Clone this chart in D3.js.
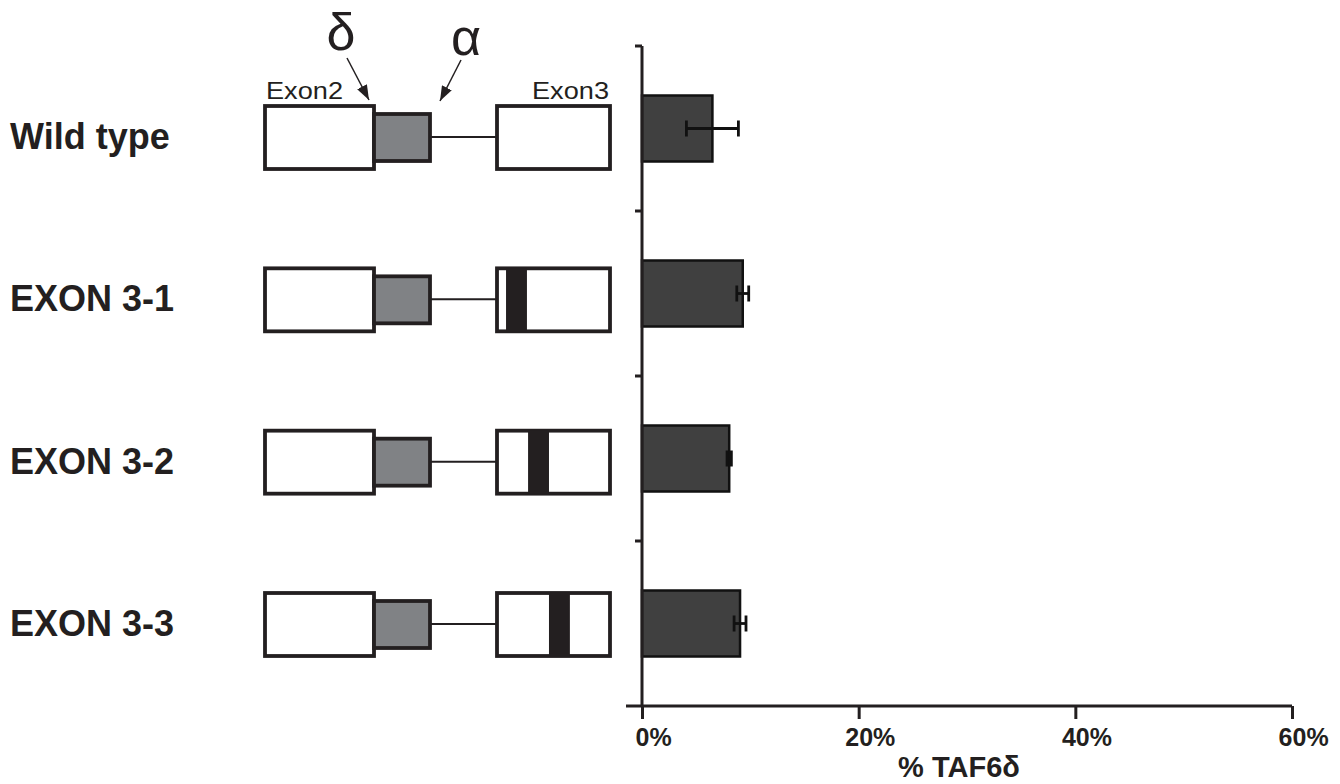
<!DOCTYPE html>
<html><head><meta charset="utf-8">
<script src="https://cdn.jsdelivr.net/npm/d3@7/dist/d3.min.js"></script>
<style>html,body{margin:0;padding:0;background:#fff;}svg{display:block;}</style>
</head><body>
<script>
const categories = ["Wild type", "EXON 3-1", "EXON 3-2", "EXON 3-3"];
const values = [6.5, 9.3, 8.05, 9.05];      // % TAF6δ
const errors = [2.4, 0.55, 0.2, 0.55];       // error bar half-width (%)
const xTicks = [0, 20, 40, 60];
const xTickLabels = ["0%", "20%", "40%", "60%"];
// mutation block within exon 3, as fraction of exon 3 length
const mutStart = [null, 0.08, 0.275, 0.46];
const mutEnd   = [null, 0.265, 0.46, 0.645];

const W = 1340, H = 784;
const ink = "#231f20";
const svg = d3.select("body").append("svg").attr("width", W).attr("height", H);
const boldFont = "'Liberation Sans',Arial,sans-serif";

// ---------- bar chart ----------
const x = d3.scaleLinear().domain([0, 60]).range([642, 1292]);
const y = d3.scaleBand().domain(categories).range([46, 706]).paddingInner(0.6).paddingOuter(0.3);

const g = svg.append("g");
g.selectAll("rect.bar").data(categories).join("rect")
  .attr("class", "bar")
  .attr("x", x(0))
  .attr("y", d => y(d))
  .attr("width", (d, i) => x(values[i]) - x(0))
  .attr("height", y.bandwidth())
  .attr("fill", "#404040").attr("stroke", "#111").attr("stroke-width", 2.5);

// error bars
const eb = g.selectAll("g.err").data(categories).join("g").attr("class", "err");
eb.append("line")
  .attr("x1", (d, i) => x(values[i] - errors[i])).attr("x2", (d, i) => x(values[i] + errors[i]))
  .attr("y1", d => y(d) + y.bandwidth() / 2).attr("y2", d => y(d) + y.bandwidth() / 2)
  .attr("stroke", "#111").attr("stroke-width", 2.8);
[-1, 1].forEach(s => {
  eb.append("line")
    .attr("x1", (d, i) => x(values[i] + s * errors[i])).attr("x2", (d, i) => x(values[i] + s * errors[i]))
    .attr("y1", d => y(d) + y.bandwidth() / 2 - 8).attr("y2", d => y(d) + y.bandwidth() / 2 + 8)
    .attr("stroke", "#111").attr("stroke-width", 2.8);
});

// y axis
const boundaries = d3.range(categories.length + 1).map(i => 46 + i * y.step());
g.append("line").attr("x1", x(0)).attr("x2", x(0)).attr("y1", 46).attr("y2", 706)
  .attr("stroke", ink).attr("stroke-width", 3);
g.selectAll("line.ytick").data(boundaries.slice(0, -1)).join("line").attr("class", "ytick")
  .attr("x1", x(0) - 7).attr("x2", x(0)).attr("y1", d => d).attr("y2", d => d)
  .attr("stroke", ink).attr("stroke-width", 3);

// x axis
const xAxis = d3.axisBottom(x).tickValues(xTicks).tickFormat((d, i) => xTickLabels[i]).tickSize(13).tickSizeOuter(0);
const xg = g.append("g").attr("transform", "translate(0,706)").call(xAxis);
xg.select(".domain").remove();
g.append("line").attr("x1", 626).attr("x2", x(60)).attr("y1", 706).attr("y2", 706)
  .attr("stroke", ink).attr("stroke-width", 3);
xg.selectAll(".tick line").attr("stroke", ink).attr("stroke-width", 3);
xg.selectAll(".tick text")
  .attr("y", 40).attr("dy", 0)
  .attr("fill", ink)
  .attr("text-anchor", "start")
  .style("font-family", boldFont)
  .style("font-weight", "bold").style("font-size", "25px")
  .each(function () {
    // centre the numeric part of the label on the tick
    const n = this.textContent.length - 1;
    const w = this.getSubStringLength(0, n);
    d3.select(this).attr("x", -w / 2);
  });

svg.append("text").attr("x", 959).attr("y", 777).attr("text-anchor", "middle")
  .attr("fill", ink)
  .style("font-family", boldFont)
  .style("font-weight", "bold").style("font-size", "29px")
  .text("% TAF6δ");

// ---------- gene diagrams ----------
const rowY = d3.scalePoint().domain(categories).range([137, 624]);
const dx = d3.scaleLinear().domain([0, 1]).range([497, 610]); // exon 3 span
const dg = svg.append("g");

const rows = dg.selectAll("g.row").data(categories).join("g").attr("class", "row")
  .attr("transform", d => `translate(0,${rowY(d)})`);

// labels
rows.append("text").attr("x", 10).attr("y", 0).attr("dy", "0.33em")
  .attr("fill", ink)
  .style("font-family", boldFont).style("font-weight", "bold").style("font-size", "36px")
  .text(d => d);

// intron line
rows.append("line").attr("x1", 430).attr("x2", 497).attr("y1", 0).attr("y2", 0)
  .attr("stroke", ink).attr("stroke-width", 2);
// exon 2
rows.append("rect").attr("x", 265).attr("y", -31).attr("width", 109).attr("height", 63)
  .attr("fill", "#fff").attr("stroke", ink).attr("stroke-width", 3.8);
// alternative region
rows.append("rect").attr("x", 374).attr("y", -23).attr("width", 56).attr("height", 47)
  .attr("fill", "#808285").attr("stroke", ink).attr("stroke-width", 3.8);
// exon 3
rows.append("rect").attr("x", dx(0)).attr("y", -31).attr("width", dx(1) - dx(0)).attr("height", 63)
  .attr("fill", "#fff").attr("stroke", ink).attr("stroke-width", 3.8);
// mutation blocks
rows.filter((d, i) => mutStart[i] !== null).append("rect")
  .attr("x", d => dx(mutStart[categories.indexOf(d)]))
  .attr("y", -31)
  .attr("width", d => { const i = categories.indexOf(d); return dx(mutEnd[i]) - dx(mutStart[i]); })
  .attr("height", 63)
  .attr("fill", ink);

// Top annotations
const lblFont = "'Liberation Sans',Arial,sans-serif";
dg.append("text").attr("x", 266).attr("y", 99).attr("fill", ink)
  .attr("textLength", 77).attr("lengthAdjust", "spacingAndGlyphs")
  .style("font-family", lblFont).style("font-size", "24px").text("Exon2");
dg.append("text").attr("x", 609).attr("y", 99).attr("text-anchor", "end").attr("fill", ink)
  .attr("textLength", 77).attr("lengthAdjust", "spacingAndGlyphs")
  .style("font-family", lblFont).style("font-size", "24px").text("Exon3");
dg.append("text").attr("x", 341).attr("y", 50).attr("text-anchor", "middle").attr("fill", ink)
  .style("font-family", lblFont).style("font-size", "52px").text("δ");
dg.append("text").attr("x", 466).attr("y", 55).attr("text-anchor", "middle").attr("fill", ink)
  .style("font-family", lblFont).style("font-size", "52px").text("α");

const defs = svg.append("defs");
defs.append("marker").attr("id", "ah").attr("viewBox", "0 0 10 10").attr("refX", 10).attr("refY", 5)
  .attr("markerWidth", 15).attr("markerHeight", 11).attr("markerUnits", "userSpaceOnUse").attr("orient", "auto")
  .attr("preserveAspectRatio", "none")
  .append("path").attr("d", "M0,0 L10,5 L0,10 Z").attr("fill", ink);
const arrows = [[347, 58, 369, 100], [461, 60, 440, 101]];
dg.selectAll("line.arrow").data(arrows).join("line").attr("class", "arrow")
  .attr("x1", d => d[0]).attr("y1", d => d[1]).attr("x2", d => d[2]).attr("y2", d => d[3])
  .attr("stroke", ink).attr("stroke-width", 1.5).attr("marker-end", "url(#ah)");
</script>
</body></html>
